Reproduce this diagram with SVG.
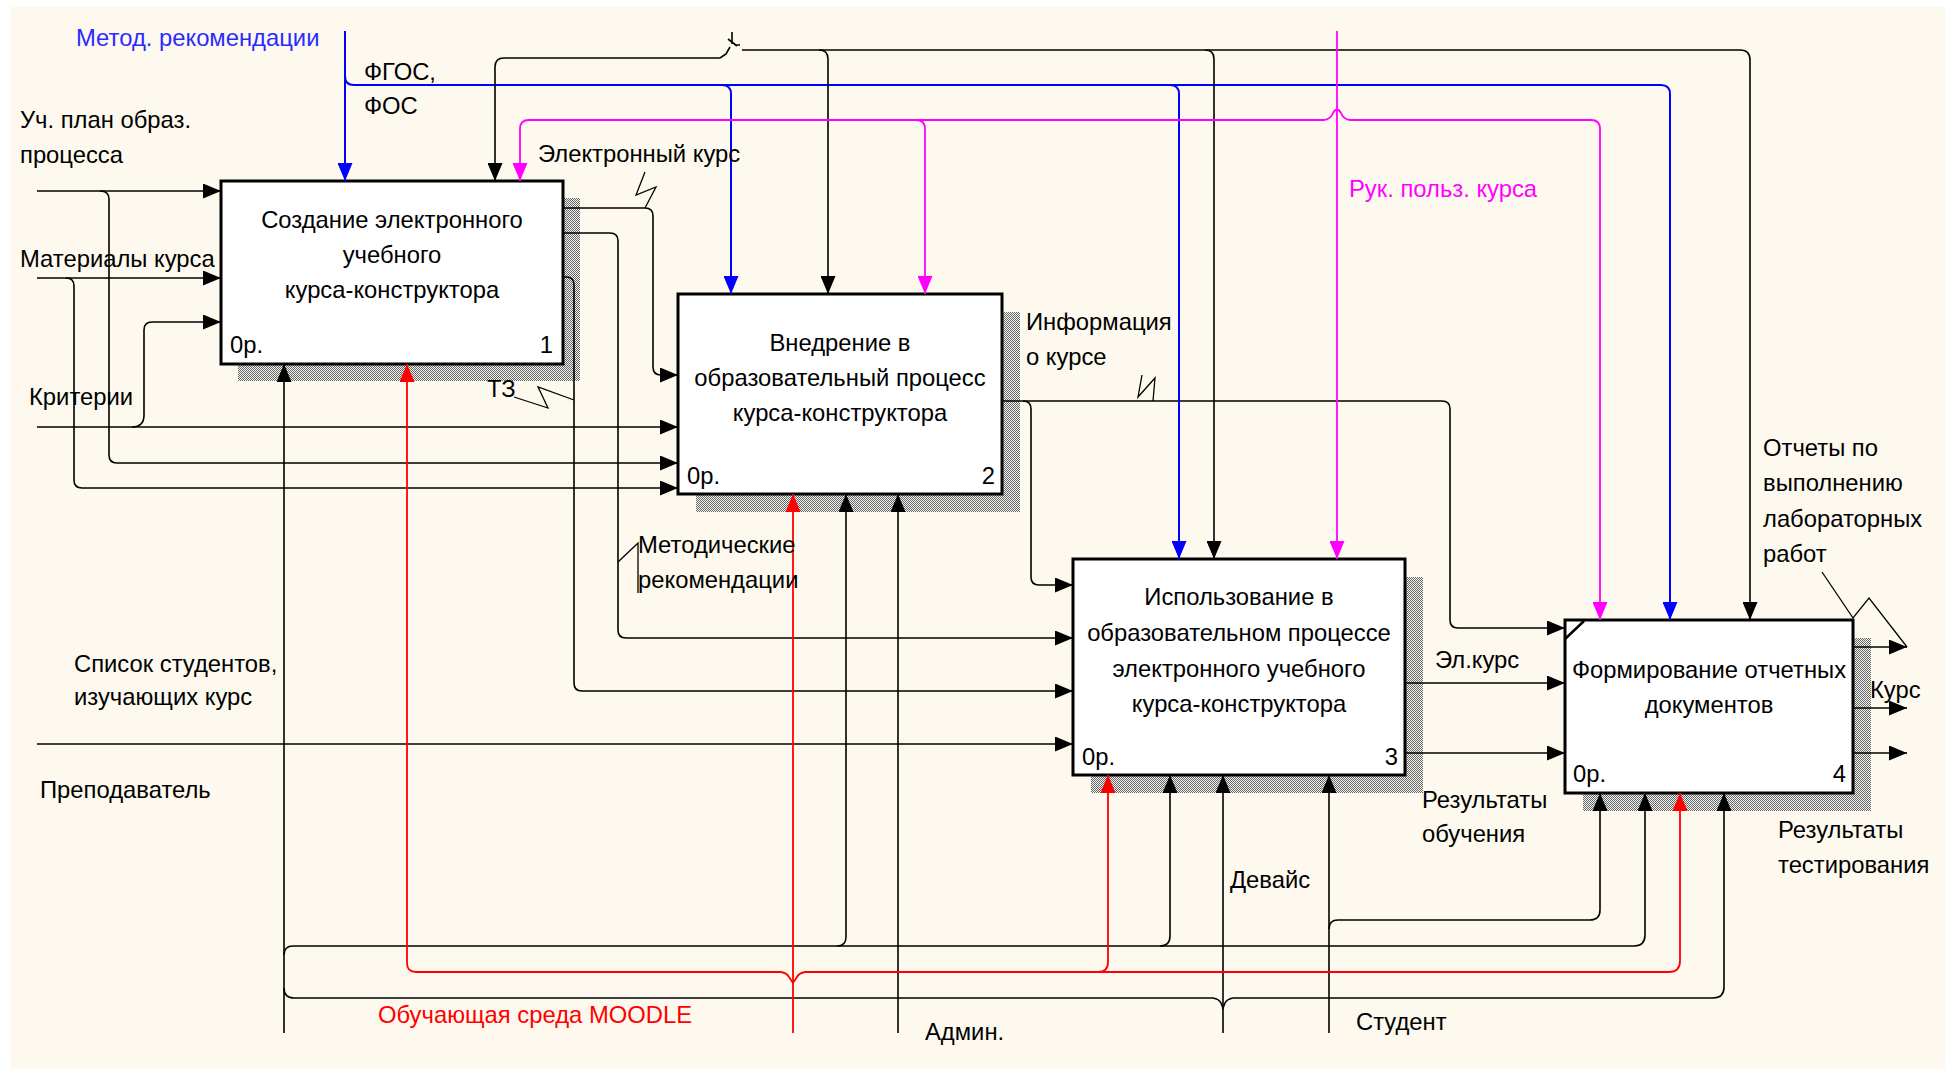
<svg xmlns="http://www.w3.org/2000/svg" width="1951" height="1069" viewBox="0 0 1951 1069">
<style>
text{font-family:"Liberation Sans",Arial,sans-serif;font-size:23.8px;fill:#000}
.bt{text-anchor:middle}
.box{fill:#fff;stroke:#000;stroke-width:3}
.sh{fill:url(#hatch)}
.k{fill:none;stroke:#000;stroke-width:1.6}
.b{fill:none;stroke:#0000ff;stroke-width:2}
.m{fill:none;stroke:#ff00ff;stroke-width:1.8}
.r{fill:none;stroke:#ff0000;stroke-width:1.8}
.ka{marker-end:url(#ak)}
.ba{marker-end:url(#ab)}
.ma{marker-end:url(#am)}
.ra{marker-end:url(#ar)}
.thin{fill:none;stroke:#000;stroke-width:1.3}
</style>
<defs>
<pattern id="hatch" width="2" height="2" patternUnits="userSpaceOnUse"><rect width="2" height="2" fill="#f4f4f0"/><rect width="1" height="1" fill="#666"/><rect x="1" y="1" width="1" height="1" fill="#666"/></pattern>
<marker id="ak" markerUnits="userSpaceOnUse" markerWidth="18" markerHeight="15" refX="18" refY="7.5" orient="auto"><path d="M0,0 L18,7.5 L0,15 z" fill="#000"/></marker>
<marker id="ab" markerUnits="userSpaceOnUse" markerWidth="18" markerHeight="15" refX="18" refY="7.5" orient="auto"><path d="M0,0 L18,7.5 L0,15 z" fill="#0000ff"/></marker>
<marker id="am" markerUnits="userSpaceOnUse" markerWidth="18" markerHeight="15" refX="18" refY="7.5" orient="auto"><path d="M0,0 L18,7.5 L0,15 z" fill="#ff00ff"/></marker>
<marker id="ar" markerUnits="userSpaceOnUse" markerWidth="18" markerHeight="15" refX="18" refY="7.5" orient="auto"><path d="M0,0 L18,7.5 L0,15 z" fill="#ff0000"/></marker>
</defs>
<rect x="0" y="0" width="1951" height="1069" fill="#ffffff"/>
<rect x="10" y="7" width="1935" height="1062" fill="#fdf9ee"/>

<g id="node1">
<rect class="sh" x="238" y="198" width="342" height="183"/>
<rect class="box" x="221" y="181" width="342" height="183"/>
<text class="bt" x="392" y="228">Создание электронного</text>
<text class="bt" x="392" y="263">учебного</text>
<text class="bt" x="392" y="298">курса-конструктора</text>
<text x="230" y="353">0р.</text>
<text x="553" y="353" text-anchor="end">1</text>
</g>
<g id="node2">
<rect class="sh" x="696" y="312" width="324" height="200"/>
<rect class="box" x="678" y="294" width="324" height="200"/>
<text class="bt" x="840" y="351">Внедрение в</text>
<text class="bt" x="840" y="386">образовательный процесс</text>
<text class="bt" x="840" y="421">курса-конструктора</text>
<text x="687" y="484">0р.</text>
<text x="995" y="484" text-anchor="end">2</text>
</g>
<g id="node3">
<rect class="sh" x="1091" y="577" width="332" height="216"/>
<rect class="box" x="1073" y="559" width="332" height="216"/>
<text class="bt" x="1239" y="605">Использование в</text>
<text class="bt" x="1239" y="641">образовательном процессе</text>
<text class="bt" x="1239" y="677">электронного учебного</text>
<text class="bt" x="1239" y="712">курса-конструктора</text>
<text x="1082" y="765">0р.</text>
<text x="1398" y="765" text-anchor="end">3</text>
</g>
<g id="node4">
<rect class="sh" x="1583" y="638" width="288" height="173"/>
<rect class="box" x="1565" y="620" width="288" height="173"/>
<path d="M1565,639 L1584,621" stroke="#000" stroke-width="2.5" fill="none"/>
<text class="bt" x="1709" y="678">Формирование отчетных</text>
<text class="bt" x="1709" y="713">документов</text>
<text x="1573" y="782">0р.</text>
<text x="1846" y="782" text-anchor="end">4</text>
</g>

<g id="connectors">
<!-- left inputs -->
<path class="k ka" d="M37,191 H221"/>
<path class="k ka" d="M100,191 Q109,191 109,199 V455 Q109,463 117,463 H678"/>
<path class="k ka" d="M37,278 H221"/>
<path class="k ka" d="M66,278 Q74,278 74,286 V480 Q74,488 82,488 H678"/>
<path class="k ka" d="M37,427 H678"/>
<path class="k ka" d="M132,427 Q144,427 144,415 V330 Q144,322 152,322 H221"/>
<path class="k ka" d="M37,744 H1073"/>
<!-- box1 outputs -->
<path class="k ka" d="M563,208 H645 Q653,208 653,216 V367 Q653,375 661,375 H678"/>
<path class="thin" d="M645,172 L636,195 L656,187 L645,208"/>
<path class="k ka" d="M563,233 H610 Q618,233 618,241 V630 Q618,638 626,638 H1073"/>
<path class="thin" d="M618,562 L638,543 V593"/>
<path class="k ka" d="M563,277 H566 Q574,277 574,285 V683 Q574,691 582,691 H1073"/>
<path class="thin" d="M514,397 L548,408 L538,387 L574,400"/>
<!-- box2 outputs -->
<path class="k ka" d="M1002,401 H1442 Q1450,401 1450,409 V620 Q1450,628 1458,628 H1565"/>
<path class="k ka" d="M1023,401 Q1031,401 1031,409 V577 Q1031,585 1039,585 H1073"/>
<path class="thin" d="M1153,401 L1155,378 L1138,397 L1142,375"/>
<!-- box3 outputs -->
<path class="k ka" d="M1405,683 H1565"/>
<path class="k ka" d="M1405,753 H1565"/>
<!-- box4 outputs -->
<path class="k ka" d="M1853,647 H1907"/>
<path class="k ka" d="M1853,708 H1907"/>
<path class="k ka" d="M1853,753 H1907"/>
<path class="thin" d="M1822,572 L1853,618 L1869,598 L1907,647"/>
<!-- blue controls -->
<path class="b ba" d="M345,31 V181"/>
<path class="b ba" d="M345,76 Q345,85 354,85 H1661 Q1670,85 1670,94 V620"/>
<path class="b ba" d="M722,85 Q731,85 731,94 V294"/>
<path class="b ba" d="M1170,85 Q1179,85 1179,94 V559"/>
<!-- black top control -->
<path class="k ka" d="M720,58 H504 Q495,58 495,67 V181"/>
<path class="k" d="M720,58 L726,54 L730,47 M732,32 L732,44 M728,39 L737,46 M735,45 H740" stroke-width="1.6"/>
<path class="k ka" d="M742,50 H1740 Q1750,50 1750,60 V620" stroke-width="2"/>
<path class="k ka" d="M819,50 Q828,50 828,59 V294"/>
<path class="k ka" d="M1205,50 Q1214,50 1214,59 V559"/>
<!-- magenta controls -->
<path class="m ma" d="M1337,31 V559"/>
<path class="m ma" d="M1324,120 H529 Q520,120 520,129 V181"/>
<path class="m ma" d="M1350,120 H1591 Q1600,120 1600,129 V620"/>
<path class="m" d="M1324,120 Q1331,119 1333,113 Q1337,106 1341,113 Q1343,119 1350,120"/>
<path class="m ma" d="M916,120 Q925,120 925,129 V294"/>
<!-- mechanisms -->
<path class="k ka" d="M284,1033 V364"/>
<path class="k ka" d="M284,955 Q284,946 293,946 H1634 Q1645,946 1645,935 V793"/>
<path class="k ka" d="M837,946 Q846,946 846,937 V494"/>
<path class="k ka" d="M1160,946 Q1170,946 1170,936 V775"/>
<path class="k" d="M284,988 Q284,998 294,998 H1213"/>
<path class="k ka" d="M1233,998 H1713 Q1724,998 1724,987 V793"/>
<path class="k" d="M1213,998 Q1219,999 1221,1003 L1223,1008 L1225,1003 Q1227,999 1233,998"/>
<path class="k ka" d="M1223,1033 V775"/>
<path class="k ka" d="M898,1033 V494"/>
<path class="k ka" d="M1329,1033 V775"/>
<path class="k ka" d="M1329,929 Q1329,920 1338,920 H1590 Q1600,920 1600,910 V793"/>
<!-- red mechanism -->
<path class="r ra" d="M793,1033 V494"/>
<path class="r ra" d="M781,972 H416 Q407,972 407,963 V364"/>
<path class="r ra" d="M805,972 H1669 Q1680,972 1680,961 V793"/>
<path class="r ra" d="M1098,972 Q1108,972 1108,962 V775"/>
<path class="r" d="M781,972 Q787,973 789,977 L793,983 L797,977 Q799,973 805,972"/>
</g>

<g id="labels">
<text x="76" y="46" style="fill:#2b2bff">Метод. рекомендации</text>
<text x="364" y="80">ФГОС,</text>
<text x="364" y="114">ФОС</text>
<text x="20" y="128">Уч. план образ.</text>
<text x="20" y="163">процесса</text>
<text x="20" y="267">Материалы курса</text>
<text x="29" y="405">Критерии</text>
<text x="538" y="162">Электронный курс</text>
<text x="487" y="397">ТЗ</text>
<text x="1026" y="330">Информация</text>
<text x="1026" y="365">о курсе</text>
<text x="1349" y="197" style="fill:#ff00ff">Рук. польз. курса</text>
<text x="638" y="553">Методические</text>
<text x="638" y="588">рекомендации</text>
<text x="74" y="672">Список студентов,</text>
<text x="74" y="705">изучающих курс</text>
<text x="40" y="798">Преподаватель</text>
<text x="378" y="1023" style="fill:#ff0000">Обучающая среда MOODLE</text>
<text x="925" y="1040">Админ.</text>
<text x="1230" y="888">Девайс</text>
<text x="1356" y="1030">Студент</text>
<text x="1422" y="808">Результаты</text>
<text x="1422" y="842">обучения</text>
<text x="1778" y="838">Результаты</text>
<text x="1778" y="873">тестирования</text>
<text x="1435" y="668">Эл.курс</text>
<text x="1870" y="698">Курс</text>
<text x="1763" y="456">Отчеты по</text>
<text x="1763" y="491">выполнению</text>
<text x="1763" y="527">лабораторных</text>
<text x="1763" y="562">работ</text>
</g>
</svg>
